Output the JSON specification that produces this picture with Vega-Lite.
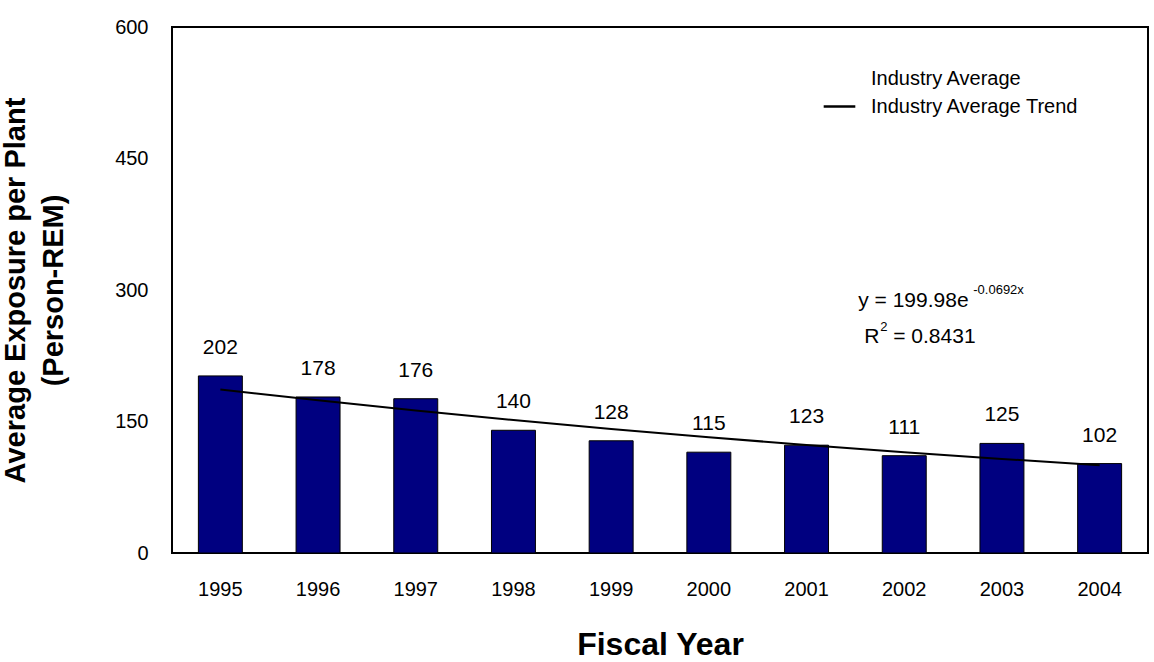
{
  "$schema": "https://vega.github.io/schema/vega-lite/v6.json",
  "width": 976,
  "height": 526,
  "autosize": "none",
  "padding": {"left": 172, "top": 27, "right": 6, "bottom": 109},
  "config": {
    "font": "Liberation Sans",
    "view": {"stroke": "black", "strokeWidth": 2},
    "axis": {"grid": false, "domain": false, "labelFontSize": 20, "labelColor": "black", "tickColor": "black", "titleColor": "black"}
  },
  "datasets": {
    "bars": [
      {"year": "1995", "value": 202}, {"year": "1996", "value": 178},
      {"year": "1997", "value": 176}, {"year": "1998", "value": 140},
      {"year": "1999", "value": 128}, {"year": "2000", "value": 115},
      {"year": "2001", "value": 123}, {"year": "2002", "value": 111},
      {"year": "2003", "value": 125}, {"year": "2004", "value": 102}
    ],
    "trend": [
      {"year": "1995", "value": 186.61, "series": "Industry Average Trend"},
      {"year": "1996", "value": 174.13, "series": "Industry Average Trend"},
      {"year": "1997", "value": 162.49, "series": "Industry Average Trend"},
      {"year": "1998", "value": 151.63, "series": "Industry Average Trend"},
      {"year": "1999", "value": 141.49, "series": "Industry Average Trend"},
      {"year": "2000", "value": 132.03, "series": "Industry Average Trend"},
      {"year": "2001", "value": 123.20, "series": "Industry Average Trend"},
      {"year": "2002", "value": 114.97, "series": "Industry Average Trend"},
      {"year": "2003", "value": 107.28, "series": "Industry Average Trend"},
      {"year": "2004", "value": 100.11, "series": "Industry Average Trend"}
    ],
    "eq": [{"year": "2002", "value": 288, "text": "y = 199.98e"}],
    "eqsup": [{"year": "2002", "value": 300, "text": "-0.0692x"}],
    "r2": [{"year": "2002", "value": 246, "text": "R"}],
    "r2rest": [{"year": "2002", "value": 246, "text": "= 0.8431"}],
    "r2sup": [{"year": "2002", "value": 258, "text": "2"}]
  },
  "encoding": {
    "x": {"field": "year", "type": "ordinal", "scale": {"paddingInner": 0.55, "paddingOuter": 0.27},
      "axis": {"labelAngle": 0, "ticks": false, "labelPadding": 26, "title": "Fiscal Year", "titleFontSize": 32, "titleFontWeight": "bold", "titlePadding": 30}},
    "y": {"field": "value", "type": "quantitative", "scale": {"domain": [0, 600]},
      "axis": {"values": [0, 150, 300, 450, 600], "ticks": false, "labelPadding": 24, "title": ["Average Exposure per Plant", "(Person-REM)"], "titleFontSize": 29, "titleFontWeight": "bold", "titlePadding": 46, "titleLineHeight": 38}}
  },
  "layer": [
    {"data": {"name": "bars"}, "mark": {"type": "bar", "color": "#000080", "stroke": "black", "strokeWidth": 1}},
    {"data": {"name": "bars"}, "mark": {"type": "text", "dy": -28, "fontSize": 21}, "encoding": {"text": {"field": "value"}}},
    {"data": {"name": "trend"}, "mark": {"type": "line", "strokeWidth": 2},
      "encoding": {"color": {"field": "series", "type": "nominal",
        "scale": {"domain": ["Industry Average", "Industry Average Trend"], "range": ["transparent", "black"]},
        "legend": {"title": null, "orient": "none", "legendX": 650, "legendY": 34, "labelFontSize": 20, "labelLimit": 400, "labelColor": "black", "symbolType": "stroke", "symbolSize": 1000, "symbolStrokeWidth": 2.5, "rowPadding": -4, "labelOffset": 14}}}},
    {"data": {"name": "eq"}, "mark": {"type": "text", "fontSize": 21, "align": "left", "dx": -46}, "encoding": {"text": {"field": "text"}}},
    {"data": {"name": "eqsup"}, "mark": {"type": "text", "fontSize": 13, "align": "left", "dx": 69}, "encoding": {"text": {"field": "text"}}},
    {"data": {"name": "r2"}, "mark": {"type": "text", "fontSize": 21, "align": "left", "dx": -40}, "encoding": {"text": {"field": "text"}}},
    {"data": {"name": "r2sup"}, "mark": {"type": "text", "fontSize": 13, "align": "left", "dx": -24}, "encoding": {"text": {"field": "text"}}},
    {"data": {"name": "r2rest"}, "mark": {"type": "text", "fontSize": 21, "align": "left", "dx": -11}, "encoding": {"text": {"field": "text"}}}
  ]
}
